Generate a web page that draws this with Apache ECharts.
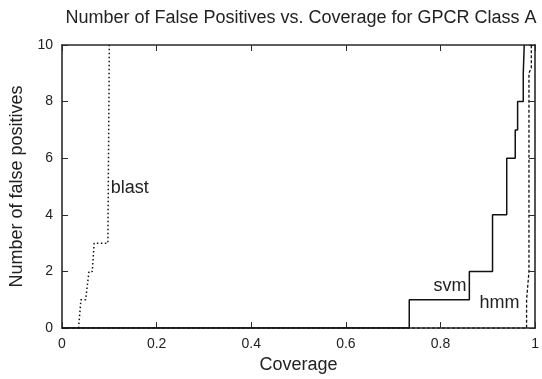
<!DOCTYPE html>
<html>
<head>
<meta charset="utf-8">
<script src="https://cdn.jsdelivr.net/npm/echarts@6/dist/echarts.min.js"></script>
<style>
html,body{margin:0;padding:0;background:#fff;}
#c{width:542px;height:379px;}
</style>
</head>
<body>
<div id="c"></div>
<script>
// ---- data ----
var titleText = 'Number of False Positives vs. Coverage for GPCR Class A';
var xName = 'Coverage';
var yName = 'Number of false positives';
var xTicks = [0, 0.2, 0.4, 0.6, 0.8, 1];
var yTicks = [0, 2, 4, 6, 8, 10];

var blastX = [0.035, 0.040, 0.050, 0.057, 0.064, 0.068, 0.097, 0.100];
var blastY = [0, 1, 1, 2, 2, 3, 3, 10];

var svmX = [0, 0.734, 0.734, 0.861, 0.861, 0.910, 0.910, 0.940, 0.940, 0.958, 0.958, 0.963, 0.963, 0.975, 0.975, 0.977, 0.977];
var svmY = [0, 0, 1, 1, 2, 2, 4, 4, 6, 6, 7, 7, 8, 8, 9, 9, 10];

var hmmX = [0, 0.982, 0.982, 0.987, 0.987, 0.992, 0.992];
var hmmY = [0, 0, 1, 2, 9, 9.2, 10];

var labelNames = ['blast', 'svm', 'hmm'];
var labelX = [0.103, 0.855, 0.967];
var labelY = [4.95, 1.5, 0.9];
var labelAlign = ['left', 'right', 'right'];

// ---- chart ----
function pairs(xs, ys) { return xs.map(function (x, i) { return [x, ys[i]]; }); }

var FONT = '"Liberation Sans", Arial, Helvetica, sans-serif';
var TXT = '#222';
var AX = '#2a2a2a';

var chart = echarts.init(document.getElementById('c'), null, { renderer: 'canvas' });

function xAxisDef(pos, labels) {
  return {
    type: 'value', position: pos, min: xTicks[0], max: xTicks[xTicks.length - 1],
    interval: xTicks[1] - xTicks[0],
    name: labels ? xName : '', nameLocation: 'middle', nameGap: 26,
    nameTextStyle: { fontFamily: FONT, fontSize: 18, color: TXT },
    axisLine: { show: true, onZero: false, lineStyle: { color: AX, width: 1.6 } },
    axisTick: { show: true, inside: true, length: 6, lineStyle: { color: AX, width: 1 } },
    axisLabel: { show: labels, fontFamily: FONT, fontSize: 14, color: TXT, margin: 9 },
    splitLine: { show: false }
  };
}
function yAxisDef(pos, labels) {
  return {
    type: 'value', position: pos, min: yTicks[0], max: yTicks[yTicks.length - 1],
    interval: yTicks[1] - yTicks[0],
    name: labels ? yName : '', nameLocation: 'middle', nameGap: 36,
    nameTextStyle: { fontFamily: FONT, fontSize: 18, color: TXT },
    axisLine: { show: true, onZero: false, lineStyle: { color: AX, width: 1.6 } },
    axisTick: { show: true, inside: true, length: 6, lineStyle: { color: AX, width: 1 } },
    axisLabel: { show: labels, fontFamily: FONT, fontSize: 14, color: TXT, margin: 9 },
    splitLine: { show: false }
  };
}

var labelData = labelNames.map(function (n, i) {
  return {
    value: [labelX[i], labelY[i]], name: n,
    label: { show: true, formatter: n, position: 'inside', align: labelAlign[i], verticalAlign: 'middle',
      fontFamily: FONT, fontSize: 18, color: TXT, opacity: 1 }
  };
});

chart.setOption({
  animation: false,
  backgroundColor: '#fff',
  graphic: [{
    type: 'text', x: 301, y: 9,
    style: { text: titleText, font: '18px ' + FONT, fill: TXT, textAlign: 'center', textVerticalAlign: 'top' }
  }],
  grid: { left: 62, right: 3, top: 45, bottom: 45, containLabel: false },
  xAxis: [xAxisDef('bottom', true), xAxisDef('top', false)],
  yAxis: [yAxisDef('left', true), yAxisDef('right', false)],
  series: [
    { name: 'blast', type: 'line', data: pairs(blastX, blastY), showSymbol: false, symbol: 'none',
      lineStyle: { color: '#111', width: 1.5, type: [1.5, 2.5] }, z: 3 },
    { name: 'svm', type: 'line', data: pairs(svmX, svmY), showSymbol: false, symbol: 'none',
      lineStyle: { color: '#111', width: 1.5, type: 'solid' }, z: 3 },
    { name: 'hmm', type: 'line', data: pairs(hmmX, hmmY), showSymbol: false, symbol: 'none',
      lineStyle: { color: '#111', width: 1.3, type: [3, 2] }, z: 3 },
    { name: 'labels', type: 'scatter', data: labelData, symbolSize: 0,
      itemStyle: { color: 'transparent', opacity: 1 }, z: 4 }
  ]
});
</script>
</body>
</html>
